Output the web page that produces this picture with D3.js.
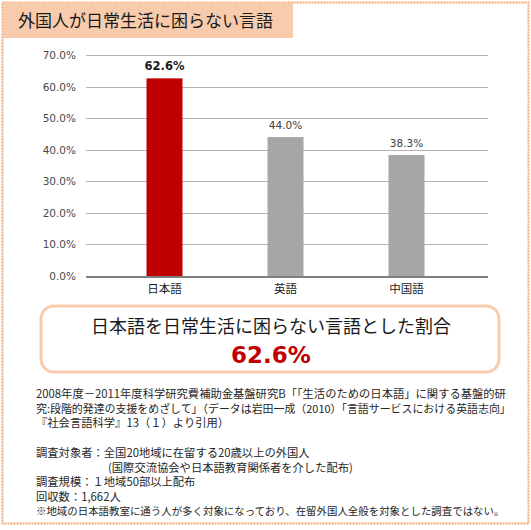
<!DOCTYPE html>
<html><head><meta charset="utf-8">
<script src="https://cdn.jsdelivr.net/npm/d3@7"></script>
<style>
html,body{margin:0;padding:0;background:#fff;}
svg{display:block;}
</style></head>
<body>
<svg id="c" width="531" height="530"></svg>
<script>
const title = "外国人が日常生活に困らない言語";
const categories = ["日本語", "英語", "中国語"];
const values = [62.6, 44.0, 38.3];
const highlight = [true, false, false];
const yTicks = [0, 10, 20, 30, 40, 50, 60, 70];
const calloutText = "日本語を日常生活に困らない言語とした割合";
const calloutValue = "62.6%";
const sourceLines = [
  "2008年度－2011年度科学研究費補助金基盤研究B「「生活のための日本語」に関する基盤的研",
  "究:段階的発達の支援をめざして」（データは岩田一成（2010）「言語サービスにおける英語志向」",
  "『社会言語科学』13（１）より引用）"
];
const surveyLines = [
  ["調査対象者：全国20地域に在留する20歳以上の外国人", 0],
  ["(国際交流協会や日本語教育関係者を介した配布)", 1],
  ["調査規模：１地域50部以上配布", 0],
  ["回収数：1,662人", 0],
  ["※地域の日本語教室に通う人が多く対象になっており、在留外国人全般を対象とした調査ではない。", 0]
];

const svg = d3.select("#c");
const jp = "'Noto Sans CJK JP', 'Noto Sans', sans-serif";
const lat = "'DejaVu Sans', Verdana, sans-serif";

// outer dotted frame
svg.append("rect").attr("x", 2.5).attr("y", 2.5).attr("width", 526).attr("height", 521)
  .attr("fill", "none").attr("stroke", "#f4a870").attr("stroke-width", 2).attr("stroke-dasharray", "2,1");

// title box
svg.append("rect").attr("x", 3).attr("y", 3).attr("width", 290).attr("height", 35).attr("fill", "#f8cbad");
svg.append("text").attr("x", 18).attr("y", 27).attr("font-family", jp).attr("font-size", 17)
  .attr("fill", "#1a1a1a").text(title);

// chart
const y = d3.scaleLinear().domain([0, 70]).range([276, 55]);
const x = d3.scalePoint().domain(categories).range([104, 467]).padding(0.5);
const barW = 36;
const plotL = 86, plotR = 488;

const g = svg.append("g");
g.selectAll(".grid").data(yTicks.filter(d => d > 0)).enter().append("line")
  .attr("x1", plotL).attr("x2", plotR)
  .attr("y1", d => Math.round(y(d)) + 0.5).attr("y2", d => Math.round(y(d)) + 0.5)
  .attr("stroke", "#b3b3b3").attr("stroke-width", 1);

g.selectAll(".ylab").data(yTicks).enter().append("text")
  .attr("x", 76).attr("y", d => y(d) + 4).attr("text-anchor", "end")
  .attr("font-family", lat).attr("font-size", 10.5).attr("fill", "#4a4a4a")
  .text(d => d3.format(".1f")(d) + "%");

g.selectAll(".bar").data(values).enter().append("rect")
  .attr("x", (d, i) => x(categories[i]) - barW / 2)
  .attr("width", barW)
  .attr("y", d => y(d))
  .attr("height", d => y(0) - y(d))
  .attr("fill", (d, i) => highlight[i] ? "#c00000" : "#a6a6a6");

// baseline
g.append("line").attr("x1", plotL).attr("x2", plotR).attr("y1", y(0) + 1).attr("y2", y(0) + 1)
  .attr("stroke", "#808080").attr("stroke-width", 2);

g.selectAll(".vlab").data(values).enter().append("text")
  .attr("x", (d, i) => x(categories[i]))
  .attr("y", d => y(d) - 8)
  .attr("text-anchor", "middle")
  .attr("font-family", lat)
  .attr("font-size", (d, i) => highlight[i] ? 11.5 : 10.5)
  .attr("font-weight", (d, i) => highlight[i] ? "bold" : "normal")
  .attr("fill", (d, i) => highlight[i] ? "#1a1a1a" : "#404040")
  .text(d => d3.format(".1f")(d) + "%");

g.selectAll(".xlab").data(categories).enter().append("text")
  .attr("x", d => x(d)).attr("y", 293).attr("text-anchor", "middle")
  .attr("font-family", jp).attr("font-size", 11.5).attr("fill", "#1a1a1a")
  .text(d => d);

// callout
svg.append("rect").attr("x", 41).attr("y", 306).attr("width", 458).attr("height", 66)
  .attr("rx", 13).attr("ry", 13).attr("fill", "#fff")
  .attr("stroke", "#f8cbad").attr("stroke-width", 3);
svg.append("text").attr("x", 271).attr("y", 333).attr("text-anchor", "middle")
  .attr("font-family", jp).attr("font-size", 18).attr("fill", "#1a1a1a").text(calloutText);
svg.append("text").attr("x", 271).attr("y", 363).attr("text-anchor", "middle")
  .attr("font-family", lat).attr("font-size", 23).attr("font-weight", "bold")
  .attr("fill", "#c00000").text(calloutValue);

function fit(sel, maxW, size) {
  sel.each(function() {
    const w = this.getComputedTextLength();
    if (w > maxW) {
      d3.select(this).attr("font-size", size * maxW / w);
    }
  });
}

// source text
const src = svg.selectAll(".src").data(sourceLines).enter().append("text")
  .attr("x", 36).attr("y", (d, i) => 398 + i * 14.7)
  .attr("font-family", jp).attr("font-size", 11.3).attr("fill", "#262626")
  .text(d => d);
fit(src, 475, 11.3);

const srv = svg.selectAll(".srv").data(surveyLines).enter().append("text")
  .attr("x", d => d[1] ? 108 : 36).attr("y", (d, i) => 457 + i * 14.5)
  .attr("font-family", jp).attr("font-size", 11.3).attr("fill", "#262626")
  .text(d => d[0]);
fit(srv, 469, 11.3);
</script>
</body></html>
